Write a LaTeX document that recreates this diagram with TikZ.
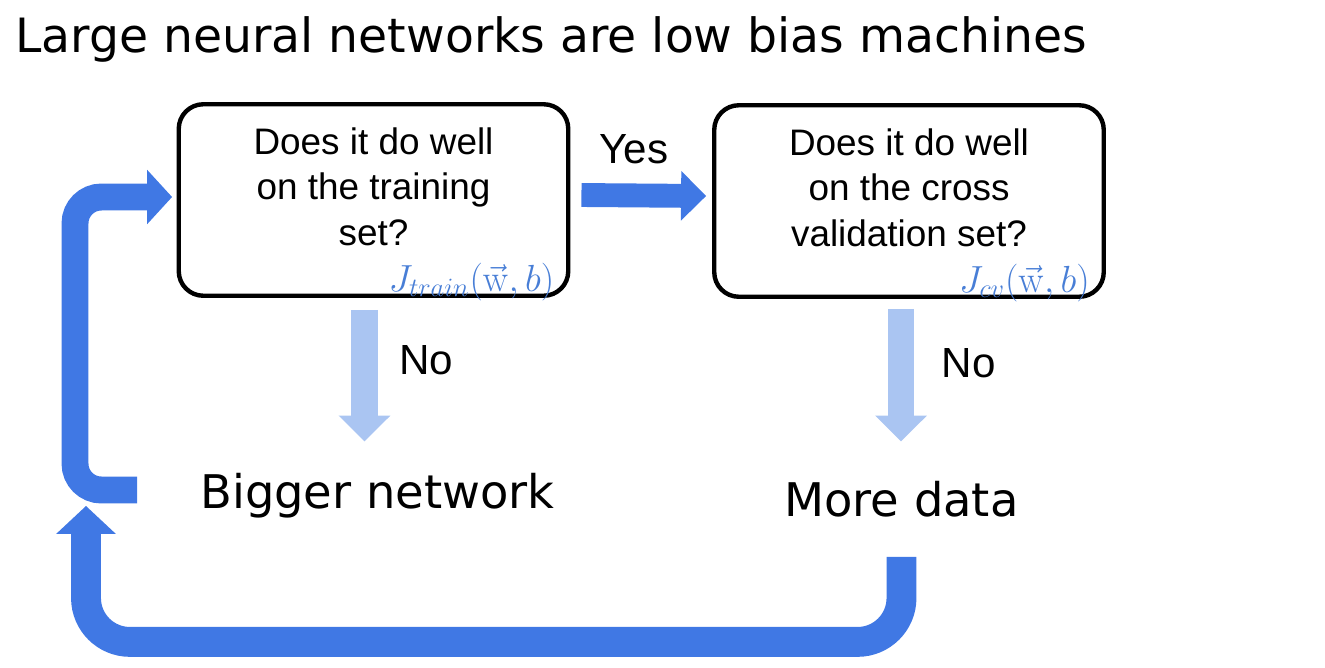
\documentclass[tikz,border=0pt]{standalone}
\usepackage{fix-cm}
\usepackage{amsmath}
\usepackage[no-math]{fontspec}
\setmainfont{Liberation Sans}
\newfontfamily\slidefont{DejaVu Sans}
\usepackage{tikz}
\usetikzlibrary{arrows.meta,positioning}
\tikzset{>=latex}
\definecolor{loopblue}{RGB}{64,120,228}
\definecolor{paleblue}{RGB}{170,197,242}
\definecolor{costblue}{RGB}{72,126,214}
\newcommand{\question}[2]{\begin{minipage}[c][97.5pt][t]{205.8pt}\centering\vspace*{7.4pt}#1\par\vfill
  \raggedleft\textcolor{costblue}{\fontsize{21.5}{22}\selectfont$#2$}\end{minipage}}
\tikzset{
  qbox/.style={draw,line width=2.5pt,rounded corners=14pt,minimum width=221.7pt,minimum height=109pt,
    inner sep=0pt,font=\fontsize{21}{26}\selectfont},
  heading/.style={inner sep=0pt,font=\slidefont\fontsize{26.9}{30}\selectfont},
  outcome/.style={inner sep=0pt,font=\slidefont\fontsize{26.4}{30}\selectfont},
  answer/.style={inner sep=0pt,font=\fontsize{24}{28}\selectfont},
  yesarrow/.style={draw=loopblue,line width=13.6pt,-{Triangle[width=28.3pt,length=14.2pt,line width=0pt]}},
  noarrow/.style={draw=paleblue,line width=15pt,-{Triangle[width=29.5pt,length=14.7pt,line width=0pt]}},
  retry/.style={draw=loopblue,line width=15.3pt,rounded corners=15pt,-{Triangle[width=31pt,length=14.2pt,line width=0pt]}},
  collect/.style={draw=loopblue,line width=17pt,rounded corners=25pt,-{Triangle[width=34pt,length=15.9pt,line width=0pt]}}
}
\begin{document}
\begin{tikzpicture}[x=0.02cm,y=-0.02cm]
      \useasboundingbox (0,0) rectangle (1325,667);
      \node[heading,anchor=base west] (title) at (15,52) {Large neural networks are low bias machines};
      % the two checks
      \node[qbox] (train) at (373.5,200) {\question{Does it do well\\on the training\\set?}{J_{train}(\vec{\mathrm{w}},b)}};
      \node[qbox] (cv) at (909,201) {\question{Does it do well\\on the cross\\validation set?}{J_{cv}(\vec{\mathrm{w}},b)}};
      % what to do next
      \node[outcome,anchor=base] (bigger) at (377.5,508) {Bigger network};
      \node[outcome,anchor=base] (more) at (901.5,516) {More data};
      \coordinate (netback) at (137,490);
      \coordinate (databack) at (86,506);
      \draw[yesarrow] ([shift={(11,-5)}]train.east) -- node[answer,pos=0.42,above=11.3pt]{Yes} ([shift={(-6,-5)}]cv.west);
      \draw[noarrow] ([shift={(-9,12)}]train.south) -- node[answer,anchor=base west,pos=0.49,xshift=12.4pt]{No} ([shift={(-13,-31)}]bigger.north);
      \draw[noarrow] ([shift={(-8,10)}]cv.south) -- node[answer,anchor=base west,pos=0.52,xshift=15.8pt]{No} ([shift={(-0.5,-39)}]more.north);
      \draw[retry] (netback) -- ++(-62,0) |- ([shift={(-4.5,-3)}]train.west);
      \draw[collect] ([yshift=-22.7pt]more.south) -- ++(0,85) -| (databack);
\end{tikzpicture}
\end{document}
